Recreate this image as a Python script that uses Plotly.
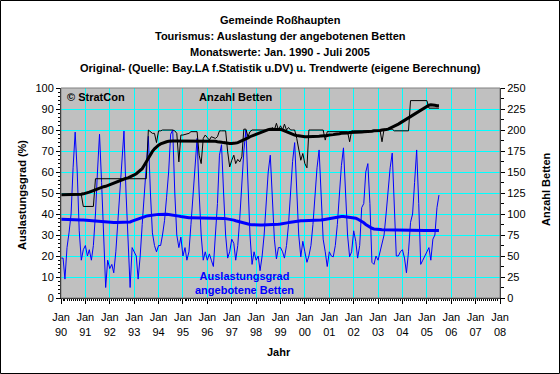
import pandas as pd
import plotly.graph_objects as go

# ---------------- data (monthly, Jan 1990 - Jul 2005) ----------------
start_month = "1990-01-01"

occupancy = [  # Auslastungsgrad (%) – left axis
    19, 19, 9, 24, 31, 40, 62, 79, 60, 32, 18, 23,          # 1990
    25, 20, 23, 18, 25, 40, 60, 78, 55, 25, 5, 18,          # 1991
    14, 16, 12, 22, 35, 50, 65, 79.5, 50, 25, 5, 24,        # 1992
    22, 20, 9, 20, 35, 50, 65, 77, 50, 31, 25, 22,          # 1993
    25, 25, 30, 37, 48, 60, 78, 80, 50, 30, 24, 29,         # 1994
    20, 24, 18, 22, 35, 50, 62, 76, 50, 30, 18, 22,         # 1995
    18, 21, 18, 15, 30, 45, 68, 73, 50, 30, 19, 22,         # 1996
    28, 26, 18, 25, 38, 55, 70, 80, 55, 30, 16, 22,         # 1997
    18, 20, 13, 20, 30, 45, 60, 68, 45, 28, 18.6, 24,       # 1998
    24, 22, 19, 25, 35, 50, 65, 74, 50, 30, 19.6, 27,       # 1999
    22, 17, 20, 25, 35, 50, 62, 70.5, 48, 28, 22, 15,       # 2000
    22, 20, 19.6, 25, 35, 50, 63, 71.5, 48, 30, 19.6, 22,   # 2001
    32, 27, 19, 25, 43, 45, 60, 64, 45, 17, 16, 20,         # 2002
    18, 22, 27, 30, 40, 52, 62, 69, 45, 20, 20, 22,         # 2003
    23, 19, 12, 22, 36, 40, 55, 70.5, 45, 16, 18, 20,       # 2004
    22, 24, 18, 28, 30, 43, 49,                             # 2005
]

occupancy_trend = [
    37.5, 37.5, 37.5, 37.5, 37.5, 37.4, 37.4, 37.3, 37.3, 37.2, 37.2, 37.1,
    37.0, 37.0, 36.9, 36.8, 36.7, 36.6, 36.5, 36.4, 36.3, 36.2, 36.1, 36.0,
    36.0, 35.9, 35.9, 35.9, 35.9, 35.9, 35.9, 35.9, 35.9, 36.0, 36.2, 36.6,
    37.0, 37.4, 37.8, 38.1, 38.4, 38.7, 39.0, 39.2, 39.4, 39.5, 39.6, 39.7,
    39.8, 39.9, 39.9, 39.9, 39.9, 39.8, 39.7, 39.6, 39.4, 39.2, 39.0, 38.8,
    38.6, 38.4, 38.3, 38.2, 38.2, 38.2, 38.2, 38.2, 38.2, 38.2, 38.2, 38.2,
    38.2, 38.2, 38.1, 38.1, 38.0, 38.0, 38.0, 38.0, 37.9, 37.8, 37.7, 37.5,
    37.3, 37.1, 36.8, 36.5, 36.2, 35.9, 35.6, 35.4, 35.2, 35.0, 34.9, 34.8,
    34.8, 34.8, 34.8, 34.8, 34.8, 34.8, 34.8, 34.8, 34.8, 34.9, 35.0, 35.1,
    35.2, 35.3, 35.5, 35.7, 35.9, 36.1, 36.3, 36.5, 36.6, 36.7, 36.8, 36.8,
    36.8, 36.8, 36.8, 36.8, 36.8, 36.8, 36.9, 37.0, 37.1, 37.3, 37.5, 37.7,
    37.9, 38.1, 38.3, 38.5, 38.6, 38.7, 38.8, 38.8, 38.7, 38.6, 38.4, 38.2,
    38.2, 38.0, 37.6, 37.1, 36.5, 35.8, 35.0, 34.3, 33.7, 33.2, 32.9, 32.7,
    32.6, 32.6, 32.5, 32.5, 32.5, 32.5, 32.5, 32.4, 32.4, 32.4, 32.4, 32.4,
    32.3, 32.3, 32.3, 32.3, 32.3, 32.2, 32.2, 32.2, 32.2, 32.2, 32.2, 32.2,
    32.1, 32.1, 32.1, 32.1, 32.1, 32.1, 32.1,
]

beds = [  # Anzahl Betten – right axis
    123, 123, 123, 123, 123, 123, 123, 123, 123, 123, 123, 109,
    109, 109, 109, 109, 109, 142, 142, 142, 142, 142, 142, 142,
    142, 142, 142, 142, 142, 142, 142, 142, 142, 142, 142, 142,
    142, 142, 142, 142, 142, 142, 142, 200, 198, 196, 196, 185,
    199, 199, 200, 200, 200, 200, 200, 200, 199, 196, 162, 194,
    194, 195, 195, 196, 198, 198, 198, 198, 170, 160, 190, 194,
    191, 188, 192, 191, 190, 192, 199, 199, 199, 199, 174, 156,
    164, 170, 160, 165, 162, 168, 201, 201, 192, 198, 200, 200,
    200, 200, 200, 200, 200, 200, 200, 200, 203, 200, 208, 200,
    205, 200, 207, 200, 203, 200, 200, 200, 190, 178, 164, 172,
    160, 155, 200, 200, 200, 200, 200, 200, 200, 200, 188, 198,
    198, 198, 198, 198, 198, 198, 198, 198, 198, 198, 186, 199,
    199, 199, 199, 199, 199, 199, 199, 199, 199, 199, 199, 199,
    199, 199, 186, 201, 201, 201, 201, 201, 199, 199, 199, 199,
    199, 199, 199, 199, 235, 235, 235, 235, 235, 235, 235, 235,
    235, 226, 226, 226, 226, 226, 226,
]

beds_trend = [
    123, 123, 123, 123, 123, 123, 123, 123, 123, 123, 123.5, 124,
    124.5, 125, 126, 127, 128, 129, 130, 131, 132, 132.5, 133, 134,
    135, 136, 137, 138, 139, 140, 141, 142, 142.5, 143, 144, 145,
    146.5, 148, 150, 152, 154, 158, 162.5, 167, 171, 174.5, 177.5, 180,
    182, 183.5, 184.5, 185.5, 186, 186.5, 187, 187, 187, 187, 187, 187,
    187, 187, 187, 187, 187, 187, 187, 187, 187, 187, 187, 187,
    187, 187, 187, 187, 186.5, 186, 186, 185.5, 185, 184.5, 184, 184,
    184, 184, 184.5, 185, 186, 187, 188, 189, 190.5, 192, 193, 194,
    195, 196, 197, 198, 199, 200, 200.5, 201, 201, 201, 201, 201,
    200.5, 200, 199, 198, 197, 196, 195, 194, 193.5, 193, 192.5, 192,
    192, 192, 192, 192, 192, 192, 192, 192.5, 193, 193, 193.5, 193.5,
    194, 194, 194.5, 195, 195, 195.5, 196, 196, 196.5, 196.5, 197, 197,
    197, 197, 197, 197.5, 197.5, 198, 198, 198, 198.5, 198.5, 199, 199,
    199, 199.5, 200, 200, 200.5, 201, 202, 203, 204, 205.5, 207, 208.5,
    210, 211.5, 213, 214.5, 216, 218, 219.5, 221, 222.5, 224, 225.5, 227,
    228.5, 229.5, 230, 230, 229.5, 229, 229,
]

tick_years = ["90", "91", "92", "93", "94", "95", "96", "97", "98", "99",
              "00", "01", "02", "03", "04", "05", "06", "07", "08"]

# ---------------- figure ----------------
months = pd.date_range(start_month, periods=len(occupancy), freq="MS")
tick_dates = pd.date_range("1990-01-01", periods=len(tick_years), freq="YS")
tick_text = ["Jan<br>" + y for y in tick_years]

W, H = 560, 374
L, R, T, B = 61, 500, 88, 298
FONT = "Liberation Sans, Arial, sans-serif"


def px(x):
    return (x - L) / (R - L)


def py(y):
    return (B - y) / (B - T)


fig = go.Figure()
fig.add_trace(go.Scatter(x=months, y=occupancy, mode="lines",
                         line=dict(color="#0000FF", width=1), yaxis="y"))
fig.add_trace(go.Scatter(x=months, y=occupancy_trend, mode="lines",
                         line=dict(color="#0000FF", width=3), yaxis="y"))
fig.add_trace(go.Scatter(x=months, y=beds, mode="lines",
                         line=dict(color="#000000", width=1), yaxis="y2"))
fig.add_trace(go.Scatter(x=months, y=beds_trend, mode="lines",
                         line=dict(color="#000000", width=3), yaxis="y2"))

tickfont = dict(family=FONT, size=11, color="black")

fig.update_layout(
    width=W, height=H,
    margin=dict(l=L, r=W - R, t=T, b=H - B, pad=0),
    paper_bgcolor="white",
    plot_bgcolor="#C0C0C0",
    showlegend=False,
    font=dict(family=FONT, size=11, color="black"),
    xaxis=dict(
        type="date", range=["1990-01-01", "2008-01-01"],
        tickmode="array", tickvals=tick_dates, ticktext=tick_text,
        tickfont=tickfont, ticks="outside", ticklen=5, tickcolor="black",
        showgrid=True, gridcolor="#00FFFF", gridwidth=1,
        showline=True, linecolor="black", linewidth=1,
        zeroline=False, ticklabelstandoff=4,
        minor=dict(dtick="M1", tick0="1990-01-01", ticks="outside",
                   ticklen=2, tickcolor="black", showgrid=False),
    ),
    yaxis=dict(
        range=[0, 100], dtick=10, tickfont=tickfont,
        ticks="outside", ticklen=4, tickcolor="black",
        showgrid=True, gridcolor="#00FFFF", gridwidth=1,
        showline=True, linecolor="black", linewidth=1, zeroline=False,
        minor=dict(dtick=2, ticks="outside", ticklen=2,
                   tickcolor="black", showgrid=False),
    ),
    yaxis2=dict(
        range=[0, 250], dtick=25, overlaying="y", side="right",
        tickfont=tickfont, ticks="outside", ticklen=4, tickcolor="black",
        showgrid=False, showline=True, linecolor="black", linewidth=1,
        zeroline=False,
        minor=dict(dtick=12.5, ticks="outside", ticklen=3,
                   tickcolor="black", showgrid=False),
    ),
)

# plot-area top border and outer frame
fig.add_shape(type="rect", xref="paper", yref="paper", x0=0, x1=1, y0=0, y1=1,
              line=dict(color="#808080", width=1), layer="above")
fig.add_shape(type="rect", xref="paper", yref="paper",
              x0=px(0.5), x1=px(559.5), y0=py(373.5), y1=py(0.5),
              line=dict(color="black", width=1), layer="above")

bold = dict(family=FONT, size=11, color="black")
titles = [
    ("Gemeinde Roßhaupten", 20),
    ("Tourismus: Auslastung der angebotenen Betten", 36),
    ("Monatswerte: Jan. 1990 - Juli 2005", 52),
    ("Original- (Quelle: Bay.LA f.Statistik u.DV) u. Trendwerte (eigene Berechnung)", 68),
]
for text, yy in titles:
    fig.add_annotation(text="<b>%s</b>" % text, x=px(280), y=py(yy),
                       xref="paper", yref="paper", showarrow=False,
                       xanchor="center", yanchor="middle", font=bold)

fig.add_annotation(text="<b>© StratCon</b>", x=px(65), y=py(97),
                   xref="paper", yref="paper", showarrow=False,
                   xanchor="left", yanchor="middle", font=bold)
fig.add_annotation(text="<b>Anzahl Betten</b>", x=px(197), y=py(97),
                   xref="paper", yref="paper", showarrow=False,
                   xanchor="left", yanchor="middle", font=bold)
fig.add_annotation(text="<b>Auslastungsgrad<br>angebotene Betten</b>",
                   x=px(244), y=py(283), xref="paper", yref="paper",
                   showarrow=False, xanchor="center", yanchor="middle",
                   font=dict(family=FONT, size=11, color="#0000FF"))

fig.add_annotation(text="<b>Auslastungsgrad (%)</b>", x=px(22), y=py(195),
                   xref="paper", yref="paper", showarrow=False, textangle=-90,
                   xanchor="center", yanchor="middle", font=bold)
fig.add_annotation(text="<b>Anzahl Betten</b>", x=px(546), y=py(189),
                   xref="paper", yref="paper", showarrow=False, textangle=-90,
                   xanchor="center", yanchor="middle", font=bold)
fig.add_annotation(text="<b>Jahr</b>", x=px(279), y=py(352),
                   xref="paper", yref="paper", showarrow=False,
                   xanchor="center", yanchor="middle", font=bold)

fig.write_html("out.html",
               config={"displayModeBar": False},
               post_script="document.body.style.margin='0px';"
                           "document.body.style.overflow='hidden';")
